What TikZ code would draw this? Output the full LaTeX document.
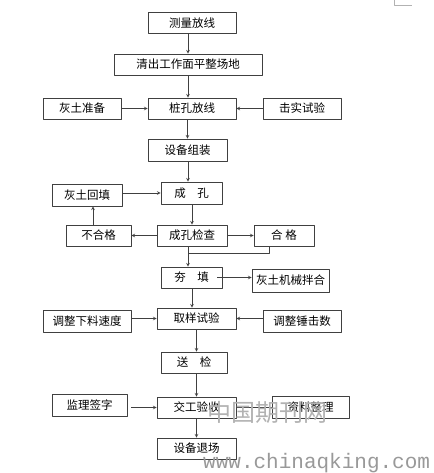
\documentclass[tikz,border=0pt]{standalone}
\usepackage{fontspec}
\setmainfont{Liberation Sans}
\newfontfamily\cjk{Noto Sans CJK SC}
\newfontfamily\wmono{Liberation Mono}

\begin{document}
\begin{tikzpicture}[x=1pt, y=-1pt, >=stealth, line join=round, font=\cjk\fontsize{11.5}{14}\selectfont,
	box/.style={draw=black!75, line width=0.6pt, inner sep=0pt, minimum height=21pt},
	conn/.style={draw=black!75, line width=0.7pt}]
	\useasboundingbox (0,0) rectangle (433,473);
	% main column
	\node[box, minimum width=88pt] (clfx) at (192,23) {测量放线};
	\node[box, minimum width=148pt] (qczd) at (188,64.5) {清出工作面平整场地};
	\node[box, minimum width=88pt] (zkfx) at (192,108.5) {桩孔放线};
	\node[box, minimum width=79pt, minimum height=22pt] (sbzz) at (187.5,150) {设备组装};
	\node[box, minimum width=61pt, minimum height=22pt] (chk) at (191.5,193) {成\quad 孔};
	\node[box, minimum width=70pt] (ckjc) at (192,235.5) {成孔检查};
	\node[box, minimum width=61pt] (hangt) at (191.5,277.5) {夯\quad 填};
	\node[box, minimum width=79pt] (qysy) at (196.5,318.5) {取样试验};
	\node[box, minimum width=66pt] (songj) at (194,362.5) {送\quad 检};
	\node[box, minimum width=79pt] (jgys) at (196.5,407.5) {交工验收};
	\node[box, minimum width=79pt] (sbtc) at (196.5,448.5) {设备退场};
	% side boxes
	\node[box, minimum width=78pt] (htzb) at (82,108.5) {灰土准备};
	\node[box, minimum width=78pt] (jssy) at (302,108.5) {击实试验};
	\node[box, minimum width=70pt, minimum height=22pt] (htht) at (87,195) {灰土回填};
	\node[box, minimum width=65pt] (bhg) at (98.5,235.5) {不合格};
	\node[box, minimum width=60pt] (heg) at (284,235.5) {合 格};
	\node[box, minimum width=77pt, minimum height=23pt] (jbhh) at (290.5,280.5) {灰土机械拌合};
	\node[box, minimum width=88pt, minimum height=22pt] (tzxl) at (87,321) {调整下料速度};
	\node[box, minimum width=78pt, minimum height=22pt] (tzcj) at (302,321) {调整锤击数};
	\node[box, minimum width=75pt, minimum height=22pt] (jlqz) at (89.5,405) {监理签字};
	\node[box, minimum width=77pt, minimum height=22pt] (zlzl) at (310.5,407) {资料整理};
	\coordinate (hb) at (188,253);
	% connectors
	\draw[conn,->] (clfx.south -| qczd) -- (qczd.north);
	\draw[conn,->] (qczd.south) -- (qczd.south |- zkfx.north);
	\draw[conn,->] (htzb.east) -- (zkfx.west);
	\draw[conn,->] (jssy.west) -- (zkfx.east);
	\draw[conn,->] (zkfx.south -| sbzz) -- (sbzz.north);
	\draw[conn,->] (sbzz.south -| qczd) -- (chk.north -| qczd);
	\draw[conn,->] (htht.east |- chk) -- (chk.west);
	\draw[conn,->] (chk.south -| ckjc) -- (ckjc.north);
	\draw[conn,->] (ckjc.west) -- (bhg.east);
	\draw[conn,->] (ckjc.east) -- (heg.west);
	\draw[conn,->] (bhg.north -| 93,0) -- (htht.south -| 93,0);
	\draw[conn] ([xshift=-15pt]heg.south) |- (hb);
	\draw[conn,->] (ckjc.south -| hb) -- (hangt.north -| hb);
	\draw[conn,->] ([xshift=-5pt]hangt.east) -- (hangt.east -| jbhh.west);
	\draw[conn,->] (hangt.south -| ckjc) -- (qysy.north -| ckjc);
	\draw[conn,->] (tzxl.east |- qysy) -- (qysy.west);
	\draw[conn,->] (tzcj.west |- qysy) -- (qysy.east);
	\draw[conn,->] (qysy.south) -- (qysy.south |- songj.north);
	\draw[conn,->] (songj.south -| jgys) -- (jgys.north);
	\draw[conn,->] ([xshift=4pt]jlqz.east |- jgys) -- (jgys.west);
	\draw[conn] (jgys.east) -- (jgys.east -| zlzl.west);
	\draw[conn,->] (jgys.south) -- (sbtc.north);
	% page mark and watermark
	\draw[black!30, line width=0.6pt] (394,0) -- (394,5) -- (412,5);
	\node[text=black!30, font=\cjk\fontsize{24}{24}\selectfont] (wmcn) at (267,412) {中国期刊网};
	\node[text=black!40, font=\wmono\fontsize{21}{21}\selectfont, anchor=base west, inner sep=0pt] (wmurl) at (203,468) {www.chinaqking.com};
\end{tikzpicture}
\end{document}
